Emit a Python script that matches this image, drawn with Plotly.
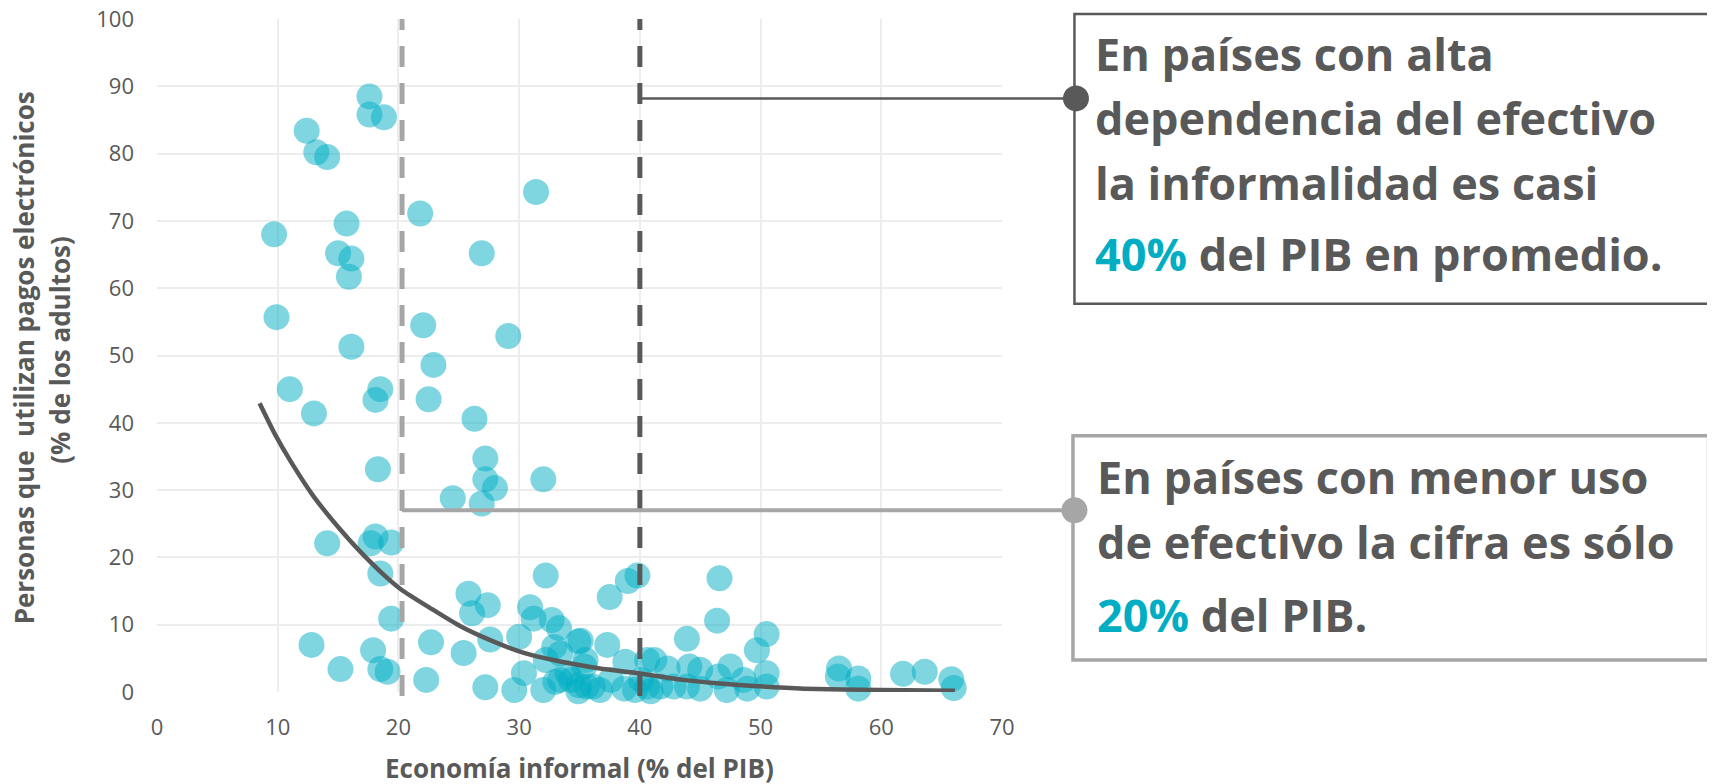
import plotly.graph_objects as go

# ---------------- data ----------------
informal_x = [
    17.6, 17.6, 18.8, 12.4, 13.2, 14.1, 31.4, 21.8, 15.7, 9.7, 15.0, 16.1, 26.9, 15.9,
    9.9, 16.1, 22.05, 29.1, 22.9, 11.0, 18.5, 18.1, 22.5, 13.0, 26.3, 27.2, 18.3, 27.2,
    28.0, 32.0, 24.5, 26.9,
    14.1, 18.1, 17.7, 19.4,
    18.5, 32.2, 25.8, 27.4, 26.1, 30.9, 31.2, 32.7, 19.4, 33.3,
    12.8, 22.7, 17.9, 25.4, 27.6, 30.0, 15.2, 18.5, 19.1, 22.3, 27.2, 29.6, 30.4, 32.0,
    32.2, 33.0,
    37.5, 39.0, 39.8, 46.6, 46.4,
    34.9, 35.1, 37.3, 43.9, 49.7, 50.5, 32.9, 35.5, 33.4, 38.8, 40.6, 41.2, 50.5, 42.3,
    44.1, 45.0, 47.5, 46.5, 48.6, 34.0, 33.4, 34.9, 34.95, 35.6, 36.7, 38.7, 39.6, 40.1,
    40.9, 40.6, 41.7, 42.8, 43.9, 45.0, 47.2, 48.9, 50.5, 34.3, 37.6, 35.4, 36.1,
    56.5, 56.4, 58.1, 58.1, 61.8, 63.6, 65.8, 66.0,
]
pagos_y = [
    88.5, 85.8, 85.4, 83.4, 80.2, 79.5, 74.3, 71.1, 69.6, 68.0, 65.2, 64.4, 65.2, 61.7,
    55.7, 51.3, 54.5, 52.9, 48.6, 45.0, 45.0, 43.4, 43.5, 41.4, 40.6, 34.7, 33.1, 31.6,
    30.3, 31.6, 28.8, 28.0,
    22.1, 23.1, 22.1, 22.2,
    17.6, 17.3, 14.6, 12.9, 11.7, 12.6, 10.9, 10.7, 10.9, 9.5,
    7.0, 7.4, 6.2, 5.8, 7.8, 8.2, 3.4, 3.4, 3.0, 1.8, 0.7, 0.3, 2.8, 0.3,
    4.75, 1.5,
    14.1, 16.5, 17.3, 16.9, 10.6,
    7.5, 7.6, 7.0, 7.9, 6.2, 8.6, 6.7, 4.75, 5.7, 4.5, 4.75, 4.75, 2.8, 3.5,
    3.8, 3.3, 3.8, 2.3, 1.8, 2.8, 1.8, 0.1, 1.0, 0.8, 0.3, 0.5, 0.3, 1.8,
    0.1, 0.8, 0.8, 0.8, 0.8, 0.5, 0.3, 0.5, 0.8, 1.8, 1.8, 3.8, 0.8,
    3.5, 2.3, 2.0, 0.5, 2.7, 3.0, 1.9, 0.6,
]

# trend line
trend_x = [8.5, 9.8, 11.1, 13.0, 15.2, 16.6, 18.5, 20.25, 22.7, 25.1, 27.6, 30.4,
           33.2, 36.7, 39.9, 43.6, 46.4, 49.4, 53.6, 59.9, 66.1]
trend_y = [42.9, 38.2, 34.2, 29.0, 24.1, 21.3, 17.9, 15.2, 12.4, 9.8, 7.7, 5.8,
           4.6, 3.5, 2.8, 1.8, 1.3, 0.9, 0.5, 0.3, 0.2]

x_ticks = [0, 10, 20, 30, 40, 50, 60, 70]
y_ticks = [0, 10, 20, 30, 40, 50, 60, 70, 80, 90, 100]

low_cash_x = 20.3      # vertical grey dashed line
high_cash_x = 40.0     # vertical dark dashed line
high_cash_y = 88.2     # dark connector level
low_cash_y = 27.0      # grey connector level

x_title = "Economía informal (% del PIB)"
y_title_1 = "Personas que  utilizan pagos electrónicos"
y_title_2 = "(% de los adultos)"
box1_lines = ["En países con alta", "dependencia del efectivo", "la informalidad es casi",
              "<span style='color:#00ADC3'>40%</span> del PIB en promedio."]
box2_lines = ["En países con menor uso", "de efectivo la cifra es sólo",
              "<span style='color:#00ADC3'>20%</span> del PIB."]

# ---------------- layout geometry (window pixels) ----------------
WIN_W, WIN_H = 1715, 784
OFF = 8                      # default page body margin
FW, FH = WIN_W - OFF, WIN_H - OFF
L, R, T, B = 156.5, 1002.0, 18.5, 692.0
W, H = R - L, B - T
X_MAX, Y_MAX = 70.0, 100.0

def px(xp):
    return (xp - L) / W

def py(yp):
    return (B - yp) / H

DARK = "#595959"
GREY = "#A6A6A6"
FONT = "Open Sans"

fig = go.Figure()
fig.add_trace(go.Scatter(
    x=informal_x, y=pagos_y, mode="markers",
    marker=dict(size=26, color="rgba(0,173,195,0.5)", line=dict(width=0)),
    hoverinfo="skip", showlegend=False, cliponaxis=False,
))
fig.add_trace(go.Scatter(
    x=trend_x, y=trend_y, mode="lines",
    line=dict(color=DARK, width=4.5, shape="spline", smoothing=0.6),
    hoverinfo="skip", showlegend=False, cliponaxis=False,
))

shapes = []
shapes.append(dict(type="line", xref="x", yref="paper", x0=low_cash_x, x1=low_cash_x,
                   y0=-0.006, y1=1.0, line=dict(color=GREY, width=5, dash="21px,16px")))
shapes.append(dict(type="line", xref="x", yref="paper", x0=high_cash_x, x1=high_cash_x,
                   y0=-0.006, y1=1.0, line=dict(color=DARK, width=5, dash="21px,16px")))
c1x, c1y = 1076.0, B - high_cash_y / Y_MAX * H
c2x, c2y = 1074.5, B - low_cash_y / Y_MAX * H
shapes.append(dict(type="line", xref="paper", yref="paper",
                   x0=high_cash_x / X_MAX, x1=px(c1x), y0=high_cash_y / Y_MAX, y1=high_cash_y / Y_MAX,
                   line=dict(color=DARK, width=2.5)))
shapes.append(dict(type="line", xref="paper", yref="paper",
                   x0=low_cash_x / X_MAX, x1=px(c2x), y0=low_cash_y / Y_MAX, y1=low_cash_y / Y_MAX,
                   line=dict(color=GREY, width=4)))
shapes.append(dict(type="rect", xref="paper", yref="paper",
                   x0=px(1074.5), x1=px(1709.5), y0=py(303.5), y1=py(13.5),
                   line=dict(color=DARK, width=2.5), fillcolor="rgba(0,0,0,0)"))
shapes.append(dict(type="rect", xref="paper", yref="paper",
                   x0=px(1073), x1=px(1709), y0=py(660), y1=py(435.5),
                   line=dict(color=GREY, width=3.5), fillcolor="rgba(0,0,0,0)"))
r = 13.0
for cx, cy, col in [(c1x, c1y, DARK), (c2x, c2y, GREY)]:
    shapes.append(dict(type="circle", xref="paper", yref="paper",
                       x0=px(cx - r), x1=px(cx + r), y0=py(cy + r), y1=py(cy - r),
                       line=dict(width=0), fillcolor=col))

annotations = []
BFS = 45
for line, base in zip(box1_lines, [70.7, 135.0, 199.3, 270.7]):
    annotations.append(dict(text=line, xref="paper", yref="paper", x=px(1094.5),
                            y=py(base - 0.388 * BFS), xanchor="left", yanchor="middle",
                            showarrow=False, borderpad=0,
                            font=dict(family=FONT, size=BFS, color=DARK, weight="bold")))
for line, base in zip(box2_lines, [494.0, 559.3, 631.7]):
    annotations.append(dict(text=line, xref="paper", yref="paper", x=px(1095.8),
                            y=py(base - 0.388 * BFS), xanchor="left", yanchor="middle",
                            showarrow=False, borderpad=0,
                            font=dict(family=FONT, size=BFS, color=DARK, weight="bold")))
TFS = 26
annotations.append(dict(text=x_title, xref="paper", yref="paper", x=0.5, y=py(778 - 0.388 * TFS),
                        xanchor="center", yanchor="middle", showarrow=False, borderpad=0,
                        font=dict(family=FONT, size=TFS, color=DARK, weight="bold")))
annotations.append(dict(text=y_title_1, xref="paper", yref="paper", x=px(23.5), y=py(358),
                        xanchor="center", yanchor="middle", textangle=-90, showarrow=False,
                        borderpad=0, font=dict(family=FONT, size=TFS, color=DARK, weight="bold")))
annotations.append(dict(text=y_title_2, xref="paper", yref="paper", x=px(60), y=py(350),
                        xanchor="center", yanchor="middle", textangle=-90, showarrow=False,
                        borderpad=0, font=dict(family=FONT, size=TFS, color=DARK, weight="bold")))

fig.update_layout(
    width=FW, height=FH,
    margin=dict(l=L - OFF, r=WIN_W - R, t=T - OFF, b=WIN_H - B, autoexpand=False),
    paper_bgcolor="white", plot_bgcolor="white",
    shapes=shapes, annotations=annotations,
    xaxis=dict(range=[0, X_MAX], tickvals=x_ticks, showgrid=True, gridcolor="#EDEDED",
               gridwidth=2, zeroline=False, showline=False, ticks="",
               ticklabelstandoff=20, ticklabeloverflow="allow",
               tickfont=dict(family=FONT, size=22, color=DARK)),
    yaxis=dict(range=[0, Y_MAX], tickvals=y_ticks, showgrid=True, gridcolor="#EDEDED",
               gridwidth=2, zeroline=False, showline=False, ticks="",
               ticklabelstandoff=22, ticklabeloverflow="allow",
               tickfont=dict(family=FONT, size=22, color=DARK)),
)

fig.write_html("out.html")
